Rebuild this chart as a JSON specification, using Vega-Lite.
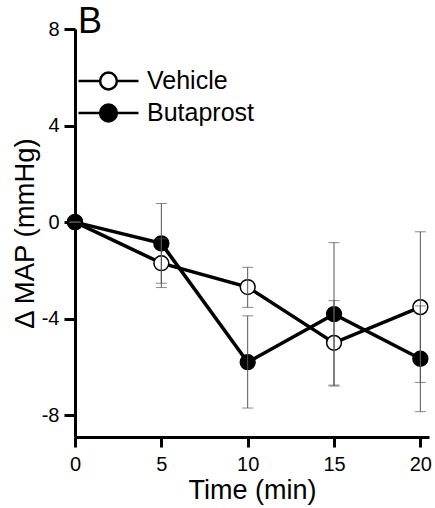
{
  "$schema": "https://vega.github.io/schema/vega-lite/v6.json",
  "autosize": {"type": "none"},
  "padding": {"left": 75, "top": 29, "right": 6, "bottom": 71},
  "width": 354,
  "height": 408,
  "background": "white",
  "title": {"text": "B", "anchor": "start", "frame": "group", "fontSize": 36, "fontWeight": "normal", "font": "Liberation Sans", "color": "black", "baseline": "alphabetic", "offset": -50, "dx": 3},
  "config": {
    "view": {"stroke": null},
    "font": "Liberation Sans",
    "axis": {"domainColor": "black", "domainWidth": 3, "tickColor": "black", "tickWidth": 3, "grid": false, "labelColor": "black", "titleColor": "black", "labelFont": "Liberation Sans", "titleFont": "Liberation Sans", "labelFontSize": 20, "titleFontWeight": "normal", "labelExpr": "replace(datum.label, '−', '-')"}
  },
  "data": {"values": [
    {"time": 0, "series": "Vehicle", "mean": 0, "lo": 0, "hi": 0},
    {"time": 5, "series": "Vehicle", "mean": -1.70, "lo": -2.71, "hi": -0.69},
    {"time": 10, "series": "Vehicle", "mean": -2.69, "lo": -3.53, "hi": -1.87},
    {"time": 15, "series": "Vehicle", "mean": -5.0, "lo": -6.75, "hi": -3.25},
    {"time": 20, "series": "Vehicle", "mean": -3.52, "lo": -6.64, "hi": -0.40},
    {"time": 0, "series": "Butaprost", "mean": 0, "lo": 0, "hi": 0},
    {"time": 5, "series": "Butaprost", "mean": -0.88, "lo": -2.53, "hi": 0.77},
    {"time": 10, "series": "Butaprost", "mean": -5.80, "lo": -7.70, "hi": -3.88},
    {"time": 15, "series": "Butaprost", "mean": -3.81, "lo": -6.79, "hi": -0.85},
    {"time": 20, "series": "Butaprost", "mean": -5.66, "lo": -7.85, "hi": -3.47}
  ]},
  "encoding": {
    "x": {"field": "time", "type": "quantitative", "title": "Time (min)",
      "scale": {"domain": [0, 20.5], "nice": false, "zero": false},
      "axis": {"values": [0, 5, 10, 15, 20], "tickSize": 10, "labelPadding": 7, "titlePadding": 3, "titleFontSize": 27, "labelFlush": false}},
    "y": {"field": "mean", "type": "quantitative", "title": "Δ MAP (mmHg)",
      "scale": {"domain": [-8.9, 8], "nice": false, "zero": false},
      "axis": {"values": [-8, -4, 0, 4, 8], "tickSize": 11, "labelPadding": 5, "titlePadding": 2, "titleFontSize": 27.5, "labelFlush": false}}
  },
  "layer": [
    {
      "mark": {"type": "line", "color": "black", "strokeWidth": 3.5},
      "encoding": {"detail": {"field": "series"}}
    },
    {
      "mark": {"type": "point", "filled": true, "shape": "circle", "size": 220, "stroke": "black", "strokeWidth": 1.5, "opacity": 1},
      "encoding": {
        "fill": {"field": "series", "type": "nominal",
          "scale": {"domain": ["Vehicle", "Butaprost"], "range": ["white", "black"]},
          "legend": {"title": null, "orient": "none", "legendX": 2, "legendY": 38, "padding": 0, "offset": 0,
            "symbolType": "M-1,0H-0.28M0.28,0H1M-0.28,0A0.28,0.28,0,1,1,0.28,0A0.28,0.28,0,1,1,-0.28,0Z",
            "symbolSize": 3600, "symbolStrokeColor": "black", "symbolStrokeWidth": 2.5, "symbolOpacity": 1,
            "clipHeight": 28, "rowPadding": 4, "labelFontSize": 25, "labelFont": "Liberation Sans", "labelColor": "black", "labelOffset": 7, "labelLimit": 300}}
      }
    },
    {
      "mark": {"type": "rule", "color": "#555555", "strokeWidth": 1},
      "encoding": {"y": {"field": "lo", "type": "quantitative"}, "y2": {"field": "hi"}, "detail": {"field": "series"}}
    },
    {
      "mark": {"type": "tick", "color": "#555555", "thickness": 1, "size": 11, "orient": "horizontal"},
      "encoding": {"y": {"field": "lo", "type": "quantitative"}, "detail": {"field": "series"}}
    },
    {
      "mark": {"type": "tick", "color": "#555555", "thickness": 1, "size": 11, "orient": "horizontal"},
      "encoding": {"y": {"field": "hi", "type": "quantitative"}, "detail": {"field": "series"}}
    }
  ]
}
